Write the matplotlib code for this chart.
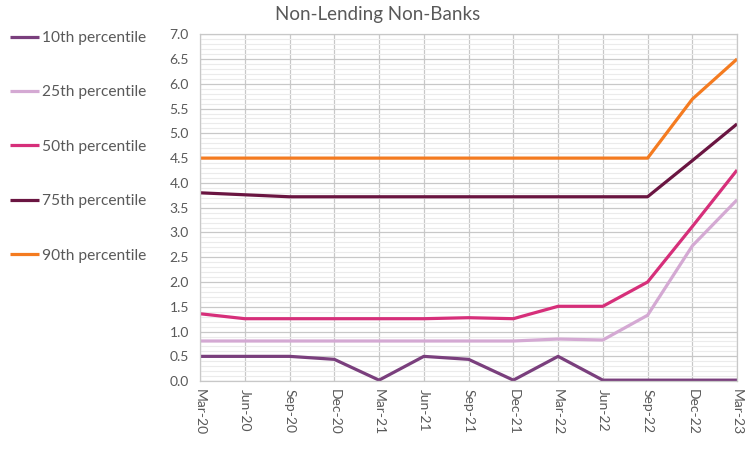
import numpy as np
import matplotlib.pyplot as plt
from matplotlib.ticker import MultipleLocator

plt.rcParams['font.family'] = ['Lato', 'DejaVu Sans']

quarters = ["Mar-20", "Jun-20", "Sep-20", "Dec-20", "Mar-21", "Jun-21", "Sep-21",
            "Dec-21", "Mar-22", "Jun-22", "Sep-22", "Dec-22", "Mar-23"]

p10 = [0.50, 0.50, 0.50, 0.44, 0.02, 0.50, 0.44, 0.02, 0.50, 0.02, 0.02, 0.02, 0.02]
p25 = [0.81, 0.81, 0.81, 0.81, 0.81, 0.81, 0.81, 0.81, 0.85, 0.83, 1.33, 2.73, 3.66]
p50 = [1.36, 1.26, 1.26, 1.26, 1.26, 1.26, 1.28, 1.26, 1.51, 1.51, 2.00, 3.12, 4.26]
p75 = [3.80, 3.76, 3.72, 3.72, 3.72, 3.72, 3.72, 3.72, 3.72, 3.72, 3.72, 4.45, 5.19]
p90 = [4.50, 4.50, 4.50, 4.50, 4.50, 4.50, 4.50, 4.50, 4.50, 4.50, 4.50, 5.69, 6.50]

series = [("10th percentile", p10, "#7A3F7D"),
          ("25th percentile", p25, "#D4A9D3"),
          ("50th percentile", p50, "#D62F7A"),
          ("75th percentile", p75, "#6A1541"),
          ("90th percentile", p90, "#F47B20")]

text_col = "#595959"
grid_col = "#C8C8C8"

fig = plt.figure(figsize=(7.56, 4.5), dpi=100)
ax = fig.add_axes([0.2646, 0.153, 0.7104, 0.771])

x = np.arange(len(quarters))
for label, vals, col in series:
    ax.plot(x, vals, color=col, lw=2.3, label=label, solid_capstyle='butt')

ax.set_xlim(0, len(quarters) - 1)
ax.set_ylim(0, 7)
ax.set_xticks(x)
ax.set_xticklabels(quarters, rotation=270, color=text_col, fontsize=10)
ax.yaxis.set_major_locator(MultipleLocator(0.5))
ax.yaxis.set_minor_locator(MultipleLocator(0.1))
ax.yaxis.set_major_formatter(plt.FormatStrFormatter('%.1f'))
ax.tick_params(axis='y', colors=text_col, labelsize=10, length=0, which='both', pad=8)
ax.tick_params(axis='x', length=0, pad=6)

ax.grid(True, which='major', color=grid_col, lw=0.9)
ax.grid(True, which='minor', axis='y', color='#EBEBEB', lw=0.8)
ax.set_axisbelow(True)
for s in ax.spines.values():
    s.set_color(grid_col)
    s.set_linewidth(0.9)

fig.text(0.5, 0.967, "Non-Lending Non-Banks", ha='center', va='center',
         fontsize=13.5, color=text_col)

handles, labels = ax.get_legend_handles_labels()
fig.legend(handles, labels, loc='upper left', bbox_to_anchor=(0.005, 0.945),
           frameon=False, fontsize=11.2, labelcolor=text_col, handlelength=1.85,
           handletextpad=0.2, labelspacing=2.6, borderaxespad=0)

fig.savefig("out.png", dpi=100)
